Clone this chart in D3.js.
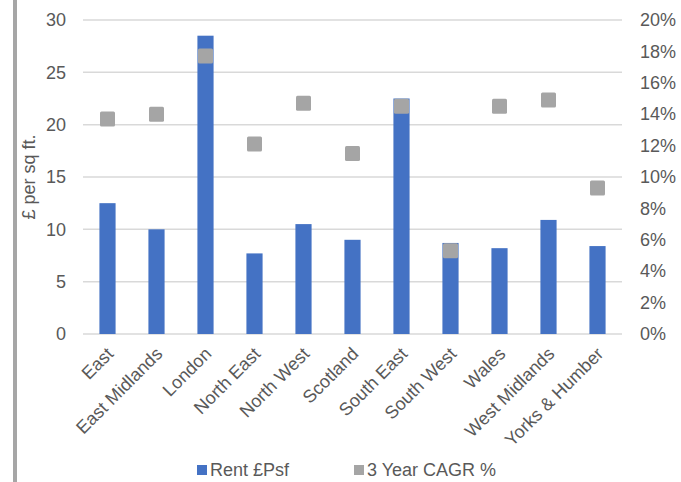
<!DOCTYPE html>
<html>
<head>
<meta charset="utf-8">
<script src="https://cdn.jsdelivr.net/npm/d3@7"></script>
<style>
  html, body { margin: 0; padding: 0; background: #fff; }
  svg { display: block; font-family: "Liberation Sans", Arial, sans-serif; }
</style>
</head>
<body>
<svg id="chart" width="681" height="482"></svg>
<script>
// Regions, average rent (£ per sq ft) and 3-year compound annual growth
const regions = ["East", "East Midlands", "London", "North East", "North West", "Scotland",
                 "South East", "South West", "Wales", "West Midlands", "Yorks & Humber"];
const rentPsf = [12.5, 10.0, 28.5, 7.7, 10.5, 9.0, 22.5, 8.7, 8.2, 10.9, 8.4];
const cagr3yr = [13.7, 14.0, 17.7, 12.1, 14.7, 11.5, 14.5, 5.3, 14.5, 14.9, 9.3];
const rentTicks = [0, 5, 10, 15, 20, 25, 30];
const cagrTicks = [0, 2, 4, 6, 8, 10, 12, 14, 16, 18, 20];
const seriesNames = ["Rent £Psf", "3 Year CAGR %"];

const svg = d3.select("#chart");
const plot = { left: 83, right: 622, top: 20, bottom: 334 };
const blue = "#4472c4", grey = "#a5a5a5", textCol = "#595959";

// Border strip on the left edge of the panel
svg.append("rect").attr("x", 13).attr("y", 0).attr("width", 4).attr("height", 482)
  .attr("fill", "#a6a6a6");

const x = d3.scaleBand().domain(regions).range([plot.left, plot.right])
  .paddingInner(0.67).paddingOuter(0.335);
const yRent = d3.scaleLinear().domain([0, 30]).range([plot.bottom, plot.top]);
const yCagr = d3.scaleLinear().domain([0, 20]).range([plot.bottom, plot.top]);

// Horizontal gridlines
svg.append("g").selectAll("line").data(rentTicks).join("line")
  .attr("x1", plot.left).attr("x2", plot.right)
  .attr("y1", d => yRent(d)).attr("y2", d => yRent(d))
  .attr("stroke", "#d9d9d9").attr("stroke-width", 1.5);

// Left axis (rent)
const leftAxis = svg.append("g").attr("transform", `translate(${plot.left},0)`)
  .call(d3.axisLeft(yRent).tickValues(rentTicks).tickSize(0).tickPadding(17));
leftAxis.select(".domain").remove();
leftAxis.selectAll("text").attr("fill", textCol).style("font-size", "18px")
  .style("font-family", "'Liberation Sans', Arial, sans-serif");

// Right axis (growth)
const rightAxis = svg.append("g").attr("transform", `translate(${plot.right},0)`)
  .call(d3.axisRight(yCagr).tickValues(cagrTicks).tickSize(0).tickPadding(18)
    .tickFormat(d => d + "%"));
rightAxis.select(".domain").remove();
rightAxis.selectAll("text").attr("fill", textCol).style("font-size", "18px")
  .style("font-family", "'Liberation Sans', Arial, sans-serif");

// Left axis title
svg.append("text")
  .attr("transform", `translate(35,${(plot.top + plot.bottom) / 2}) rotate(-90)`)
  .attr("text-anchor", "middle").attr("fill", textCol).style("font-size", "18px")
  .text("£ per sq ft.");

// Rent bars
svg.append("g").selectAll("rect").data(regions).join("rect")
  .attr("x", d => x(d)).attr("width", x.bandwidth())
  .attr("y", (d, i) => yRent(rentPsf[i]))
  .attr("height", (d, i) => yRent(0) - yRent(rentPsf[i]))
  .attr("fill", blue);

// Growth markers
const m = 15;
svg.append("g").selectAll("rect").data(regions).join("rect")
  .attr("x", d => x(d) + x.bandwidth() / 2 - m / 2)
  .attr("y", (d, i) => yCagr(cagr3yr[i]) - m / 2)
  .attr("width", m).attr("height", m).attr("rx", 1.5)
  .attr("fill", grey);

// Category labels, rotated
svg.append("g").selectAll("text").data(regions).join("text")
  .attr("transform", d => `translate(${x(d) + x.bandwidth() / 2 + 7},355) rotate(-45)`)
  .attr("text-anchor", "end").attr("fill", textCol).style("font-size", "18px")
  .text(d => d);

// Legend
const legend = [
  { name: seriesNames[0], color: blue, x: 197 },
  { name: seriesNames[1], color: grey, x: 354 }
];
const lg = svg.append("g").selectAll("g").data(legend).join("g")
  .attr("transform", d => `translate(${d.x},465)`);
lg.append("rect").attr("width", 10).attr("height", 10).attr("fill", d => d.color);
lg.append("text").attr("x", 13).attr("y", 11).attr("fill", textCol)
  .style("font-size", "18px").text(d => d.name);
</script>
</body>
</html>
